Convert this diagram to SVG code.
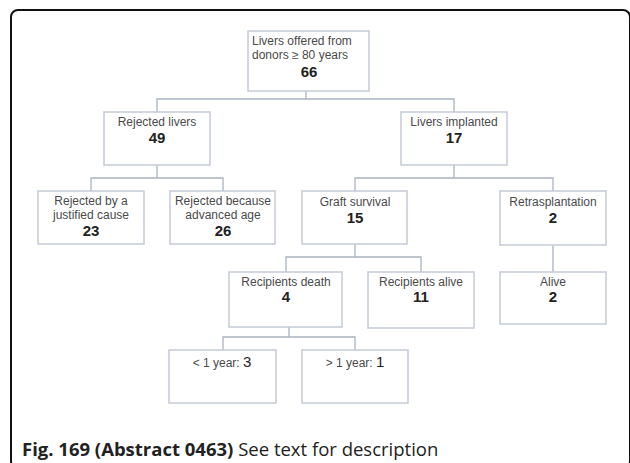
<svg xmlns="http://www.w3.org/2000/svg" width="630" height="463" viewBox="0 0 630 463">
<style>
.box{fill:#fff;stroke:#c3cad6;stroke-width:1.5}
.lbl{font-family:"Liberation Sans",Arial,sans-serif;font-size:12px;fill:#4a4a4a;text-anchor:middle}
.lbll{font-family:"Liberation Sans",Arial,sans-serif;font-size:12px;fill:#4a4a4a}
.num{font-family:"Liberation Sans",Arial,sans-serif;font-size:15px;font-weight:bold;fill:#222;text-anchor:middle}
.big{font-family:"Liberation Sans",Arial,sans-serif;font-size:15px;fill:#222}
.con{fill:none;stroke:#aab3c0;stroke-width:1.3}
.cap{font-family:"Open Sans",sans-serif;font-size:18.5px;fill:#222}
</style>
<rect x="11" y="10" width="619" height="458" rx="7" fill="none" stroke="#111" stroke-width="2"/>
<g id="connectors">
<path class="con" d="M306,91 V99 M157,112 V99 H454 V112"/>
<path class="con" d="M157,165 V178 M91,191 V178 H223 V191"/>
<path class="con" d="M454,165 V178 M355,191 V178 H553 V191"/>
<path class="con" d="M355,244 V257 M286,272 V257 H421 V272"/>
<path class="con" d="M553,245 V272"/>
<path class="con" d="M289,327 V337 M223,350 V337 H355 V350"/>
</g>
<g id="n-offered">
<rect class="box" x="248" y="31" width="121" height="60"/>
<text class="lbll" x="252" y="45">Livers offered from</text>
<text class="lbll" x="252" y="59">donors ≥ 80 years</text>
<text class="num" x="309" y="77">66</text>
</g>
<g id="n-rejected">
<rect class="box" x="104" y="112" width="106" height="53"/>
<text class="lbl" x="157" y="126">Rejected livers</text>
<text class="num" x="157" y="143">49</text>
</g>
<g id="n-implanted">
<rect class="box" x="401" y="112" width="106" height="53"/>
<text class="lbl" x="454" y="126">Livers implanted</text>
<text class="num" x="454" y="143">17</text>
</g>
<g id="n-justified">
<rect class="box" x="38" y="191" width="106" height="53"/>
<text class="lbl" x="91" y="205">Rejected by a</text>
<text class="lbl" x="91" y="219">justified cause</text>
<text class="num" x="91" y="236">23</text>
</g>
<g id="n-age">
<rect class="box" x="170" y="191" width="105" height="53"/>
<text class="lbl" x="223" y="205">Rejected because</text>
<text class="lbl" x="223" y="219">advanced age</text>
<text class="num" x="223" y="236">26</text>
</g>
<g id="n-graft">
<rect class="box" x="302" y="191" width="105" height="53"/>
<text class="lbl" x="355" y="206">Graft survival</text>
<text class="num" x="355" y="223">15</text>
</g>
<g id="n-retras">
<rect class="box" x="500" y="191" width="106" height="54"/>
<text class="lbl" x="553" y="206">Retrasplantation</text>
<text class="num" x="553" y="223">2</text>
</g>
<g id="n-death">
<rect class="box" x="229" y="272" width="113" height="55"/>
<text class="lbl" x="286" y="286">Recipients death</text>
<text class="num" x="286" y="302">4</text>
</g>
<g id="n-alive-rec">
<rect class="box" x="368" y="272" width="106" height="56"/>
<text class="lbl" x="421" y="286">Recipients alive</text>
<text class="num" x="421" y="302">11</text>
</g>
<g id="n-alive">
<rect class="box" x="500" y="272" width="106" height="52"/>
<text class="lbl" x="553" y="286">Alive</text>
<text class="num" x="553" y="302">2</text>
</g>
<g id="n-less1">
<rect class="box" x="169" y="350" width="107" height="53"/>
<text class="lbl" x="222" y="367">&lt; 1 year: <tspan class="big">3</tspan></text>
</g>
<g id="n-more1">
<rect class="box" x="302" y="350" width="106" height="53"/>
<text class="lbl" x="355" y="367">&gt; 1 year: <tspan class="big">1</tspan></text>
</g>
<text class="cap" x="22" y="456"><tspan font-weight="bold">Fig. 169 (Abstract 0463)</tspan> See text for description</text>
</svg>
